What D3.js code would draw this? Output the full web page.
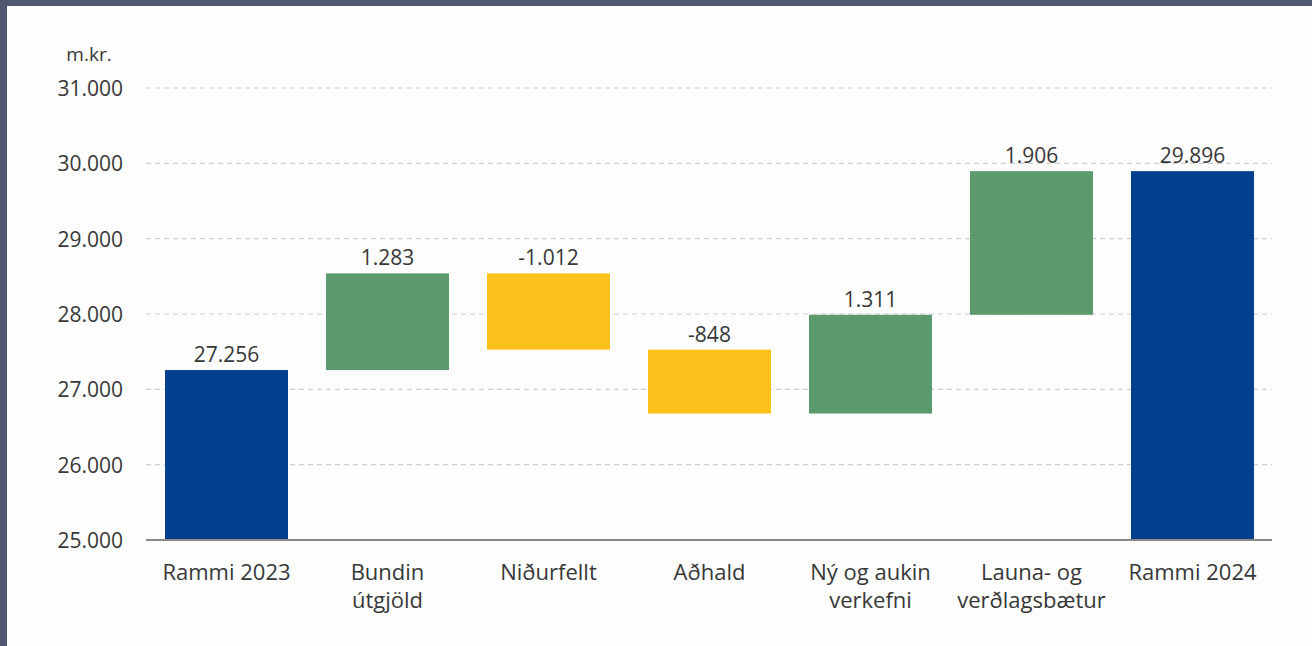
<!DOCTYPE html>
<html>
<head>
<meta charset="utf-8">
<script src="https://cdn.jsdelivr.net/npm/d3@7"></script>
<style>
html,body{margin:0;padding:0;background:#56607a;}
svg{display:block;}
</style>
</head>
<body>
<svg id="chart" width="1312" height="646"></svg>
<script>
const categories = [["Rammi 2023"],["Bundin","útgjöld"],["Niðurfellt"],["Aðhald"],["Ný og aukin","verkefni"],["Launa- og","verðlagsbætur"],["Rammi 2024"]];
const kinds = ["total","delta","delta","delta","delta","delta","total"];
const values = [27256, 1283, -1012, -848, 1311, 1906, 29896];
const valueLabels = ["27.256","1.283","-1.012","-848","1.311","1.906","29.896"];
const yTicks = [25000,26000,27000,28000,29000,30000,31000];
const yTickLabels = ["25.000","26.000","27.000","28.000","29.000","30.000","31.000"];
const unitLabel = "m.kr.";

const colors = {total:"#023f8c", up:"#5b9a6c", down:"#fcc21c"};
const font = "'Open Sans', sans-serif";

const svg = d3.select("#chart");
// frame
svg.append("rect").attr("x",0).attr("y",0).attr("width",1312).attr("height",646).attr("fill","#4f586f");
svg.append("rect").attr("x",7).attr("y",6).attr("width",1305).attr("height",640).attr("fill","#fdfdfd");

const x = d3.scaleBand().domain(d3.range(categories.length)).range([146,1273]).paddingInner(0.236).paddingOuter(0.118);
const y = d3.scaleLinear().domain([25000,31000]).range([540,88]);

// compute waterfall segments
let running = 0;
const segs = values.map((v,i)=>{
  let y0,y1,c;
  if(kinds[i]==="total"){ y0=25000; y1=v; running=v; c=colors.total; }
  else { y0=running; y1=running+v; running=y1; c = v>=0?colors.up:colors.down; }
  return {i, lo:Math.min(y0,y1), hi:Math.max(y0,y1), c, label:valueLabels[i]};
});

// gridlines
svg.append("g").selectAll("line").data(yTicks.filter(t=>t>25000)).join("line")
  .attr("x1",146).attr("x2",1272)
  .attr("y1",d=>y(d)).attr("y2",d=>y(d))
  .attr("stroke","#cfcfcf").attr("stroke-width",1.2).attr("stroke-dasharray","5,4");

// y axis labels
const yAxis = d3.axisLeft(y).tickValues(yTicks).tickFormat((d,i)=>yTickLabels[i]).tickSize(0).tickPadding(0);
const yg = svg.append("g").attr("transform","translate(123,0)").call(yAxis);
yg.select(".domain").remove();
yg.selectAll("text").attr("font-family",font).attr("font-size",21).attr("fill","#383838").attr("dy","0.35em");

svg.append("text").attr("x",89).attr("y",61).attr("text-anchor","middle")
  .attr("font-family",font).attr("font-size",19).attr("fill","#383838").text(unitLabel);

// bars
svg.append("g").selectAll("rect").data(segs).join("rect")
  .attr("x",d=>x(d.i)).attr("width",x.bandwidth())
  .attr("y",d=>y(d.hi)).attr("height",d=>y(d.lo)-y(d.hi))
  .attr("fill",d=>d.c);

// value labels
svg.append("g").selectAll("text").data(segs).join("text")
  .attr("x",d=>x(d.i)+x.bandwidth()/2).attr("y",d=>y(d.hi)-8)
  .attr("text-anchor","middle").attr("font-family",font).attr("font-size",21).attr("fill","#383838")
  .text(d=>d.label);

// baseline
svg.append("line").attr("x1",146).attr("x2",1272).attr("y1",y(25000)).attr("y2",y(25000))
  .attr("stroke","#8a8a8a").attr("stroke-width",2);

// category labels
const cg = svg.append("g").selectAll("text").data(categories).join("text")
  .attr("x",(d,i)=>x(i)+x.bandwidth()/2).attr("y",580)
  .attr("text-anchor","middle").attr("font-family",font).attr("font-size",22).attr("fill","#383838");
cg.selectAll("tspan").data(d=>d).join("tspan")
  .attr("x",function(){return this.parentNode.getAttribute("x");})
  .attr("dy",(d,i)=>i===0?0:28).text(d=>d);
</script>
</body>
</html>
